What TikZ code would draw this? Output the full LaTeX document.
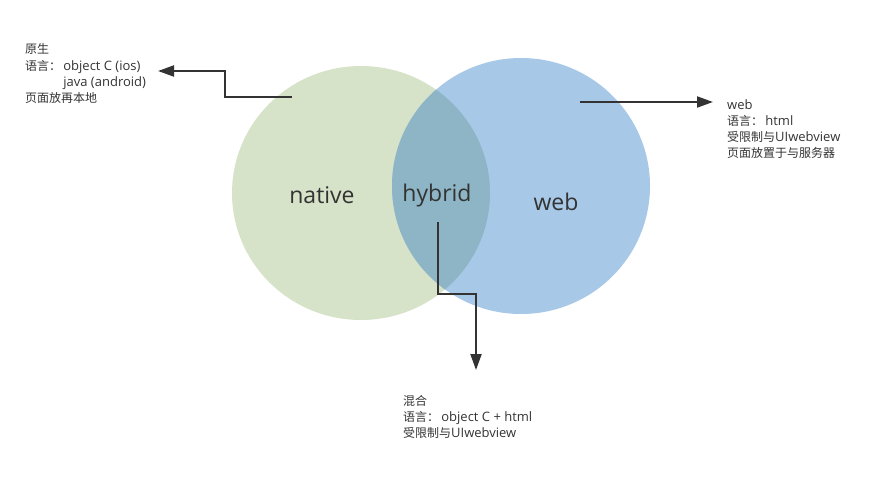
\documentclass[tikz,border=0pt]{standalone}
\usepackage{fontspec}
\setmainfont{Open Sans}
\newfontfamily\cjk{Noto Sans CJK SC}
\newcommand\zhtxt[1]{{\fontsize{12}{16}\selectfont\cjk #1}}
\usetikzlibrary{shapes.geometric,arrows.meta}
\definecolor{natgreen}{RGB}{214,227,200}
\definecolor{webblue}{RGB}{168,200,232}
\definecolor{hybblue}{RGB}{141,181,197}
\definecolor{ink}{RGB}{51,51,51}
\tikzset{
  blob/.style={ellipse, draw=none, inner sep=0pt},
  biglabel/.style={font=\fontsize{23}{26}\selectfont, text=ink, inner sep=0pt},
  note/.style={font=\fontsize{13}{16}\selectfont, text=ink, inner sep=0pt, align=left, anchor=base west},
  link/.style={draw=ink, line width=2pt, -{Triangle[length=16pt,width=11pt]}}
}
\begin{document}
\begin{tikzpicture}[x=1pt,y=-1pt]
\useasboundingbox (0,0) rectangle (885,487);
\node[blob, fill=natgreen, minimum width=258pt, minimum height=254pt] (native) at (361,193) {};
\node[blob, fill=webblue, minimum width=258pt, minimum height=256pt] (web) at (521,186) {};
\begin{scope}
  \clip (521,186) ellipse [x radius=129, y radius=128];
  \fill[hybblue] (361,193) ellipse [x radius=129, y radius=127];
\end{scope}
\node[biglabel] (lnative) at (322,195) {native};
\node[biglabel] (lhybrid) at (437,196) {hybrid};
\node[biglabel] (lweb) at (556,202) {web};

\node[note] (tnative) at (25,102) {\zhtxt{原生}\\\zhtxt{语言：}\,object C (ios)\\\phantom{\zhtxt{语言：}\,}java (android)\\\zhtxt{页面放再本地}};
\node[note] (tweb) at (727,157) {web\\\zhtxt{语言：}\,html\\\zhtxt{受限制与}UIwebview\\\zhtxt{页面放置于与服务器}};
\node[note] (thybrid) at (403,437) {\zhtxt{混合}\\\zhtxt{语言：}\,object C~+~html\\\zhtxt{受限制与}UIwebview};

\coordinate (sn) at (292,97);
\coordinate (en) at (158,71);
\coordinate (sw) at (580,102);
\coordinate (ew) at (713,102);
\coordinate (sh) at (438,222);
\coordinate (eh) at (476,370);
\draw[link] (sn) -- (225,97) -- (225,71) -- (en);
\draw[link] (sw) -- (ew);
\draw[link] (sh) -- (438,294) -- (476,294) -- (eh);
\end{tikzpicture}
\end{document}
